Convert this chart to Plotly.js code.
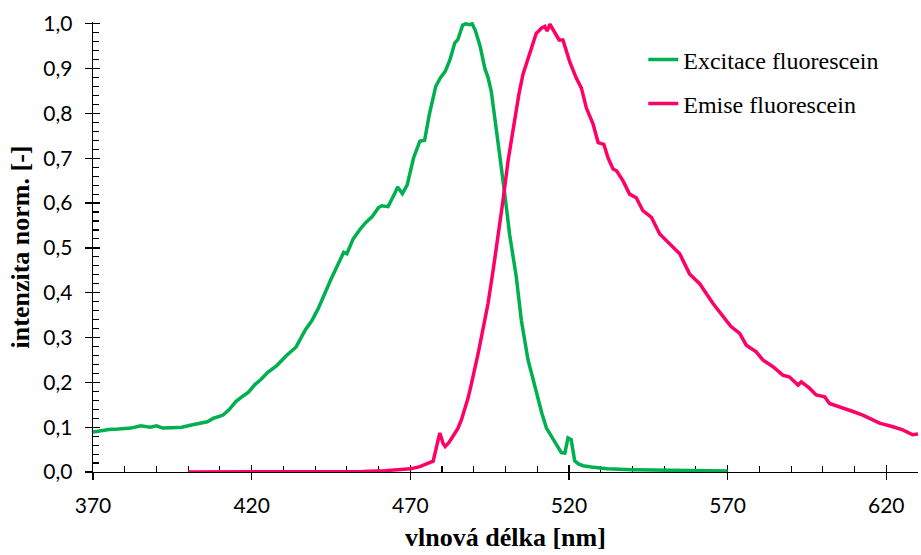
<!DOCTYPE html>
<html>
<head>
<meta charset="utf-8">
<script src="https://cdn.plot.ly/plotly-3.0.1.min.js"></script>
<style>html,body{margin:0;padding:0;background:#fff}#chart{width:921px;height:555px}</style>
</head>
<body>
<div id="chart"></div>
<script>
const exWavelength = [370,372,375,378,382,385,388,390,392,395,398,401,404,406,408,411,413,415,417,419,421,423,425,428,431,434,437,439,441,443,445,447,449,450,452,454,456,458,460,461,463,465,466,467.5,469,471,473,474.5,476,478,479.5,481,482.5,484,485,486.5,487.5,488.7,489.5,490.5,492,493.5,494.5,495.5,496.6,498.2,499.8,501.3,503.4,505,507.1,509.7,511.5,512.9,514,515,516.5,517.6,518.7,519.7,520.7,521.8,523,524.4,527,529.7,532,540,550,560,570];
const exIntensity = [0.089,0.092,0.095,0.096,0.098,0.103,0.100,0.103,0.098,0.099,0.100,0.105,0.109,0.112,0.120,0.127,0.140,0.157,0.168,0.178,0.195,0.207,0.222,0.238,0.260,0.279,0.318,0.338,0.365,0.400,0.430,0.460,0.490,0.487,0.520,0.540,0.557,0.570,0.590,0.594,0.592,0.620,0.636,0.621,0.640,0.700,0.738,0.740,0.798,0.860,0.880,0.894,0.920,0.957,0.965,0.997,1.000,0.998,1.000,0.985,0.950,0.900,0.880,0.850,0.795,0.705,0.618,0.530,0.435,0.338,0.250,0.176,0.130,0.098,0.085,0.072,0.055,0.043,0.042,0.076,0.072,0.025,0.018,0.014,0.011,0.009,0.007,0.005,0.004,0.003,0.002];

const emWavelength = [400,420,440,455,462,466.7,470,473,475,477.2,478.3,479.3,480.3,481,482.2,483.5,485,486.1,487.2,488.2,489.2,490.3,491.4,492.4,493.5,494.5,496.1,497.7,499.2,500.8,502,502.9,504.2,505.5,507,508.2,509.7,510.5,511.3,512.4,513.1,514,514.7,515.5,516.9,518.1,519.2,520.2,522.3,523.9,525.5,527.6,529.2,531,532.3,533.9,535,537,539.1,541.2,543.3,546,548.6,551.7,554.9,558,561.2,565.4,568.5,571,573.8,575.9,579,581.1,584.3,587.4,589.5,592.2,593.2,595.8,597.9,600.6,602.1,605.3,609.5,612.6,614.7,617.9,622.1,625.2,628.3,630];
const emIntensity = [0.000,0.000,0.000,0.001,0.003,0.005,0.007,0.012,0.017,0.024,0.057,0.087,0.064,0.057,0.066,0.079,0.097,0.116,0.140,0.165,0.195,0.227,0.265,0.301,0.340,0.376,0.450,0.524,0.605,0.694,0.748,0.790,0.842,0.887,0.918,0.942,0.979,0.984,0.990,0.994,0.984,0.999,0.990,0.979,0.964,0.964,0.940,0.916,0.879,0.857,0.812,0.776,0.735,0.731,0.701,0.676,0.672,0.650,0.620,0.612,0.583,0.568,0.531,0.509,0.487,0.442,0.420,0.376,0.346,0.325,0.309,0.283,0.268,0.250,0.235,0.216,0.212,0.194,0.201,0.187,0.172,0.168,0.153,0.146,0.135,0.127,0.120,0.109,0.101,0.094,0.083,0.085];

const seriesNames = ["Excitace fluorescein", "Emise fluorescein"];
const xTitle = "vlnová délka [nm]";
const yTitle = "intenzita norm. [-]";

const xRange = [370, 630];
const yRange = [0, 1.004];

const traces = [
  {x: exWavelength, y: exIntensity, type: 'scatter', mode: 'lines', name: seriesNames[0], legendgroup: 'a',
   line: {color: '#00B050', width: 3.5}, hoverinfo: 'skip'},
  {x: emWavelength, y: emIntensity, type: 'scatter', mode: 'lines', name: seriesNames[1], legendgroup: 'b',
   line: {color: '#FF0066', width: 3.5}, hoverinfo: 'skip'},
  {x: [xRange[0]], y: [yRange[0]], xaxis: 'x2', yaxis: 'y2', type: 'scatter', mode: 'markers',
   marker: {opacity: 0}, showlegend: false, hoverinfo: 'skip'}
];

const tickFont = {family: 'Lato, "Liberation Sans", sans-serif', size: 21, color: '#000'};
const titleFont = {family: '"Liberation Serif", "Times New Roman", serif', size: 26, color: '#000'};

const layout = {
  width: 921, height: 555,
  margin: {l: 93, r: 3, t: 22, b: 83, pad: 0},
  paper_bgcolor: '#fff', plot_bgcolor: '#fff',
  separators: ', ',
  showlegend: true,
  legend: {x: 0.667, y: 0.966, xanchor: 'left', yanchor: 'top', bgcolor: 'rgba(0,0,0,0)',
           font: {family: '"Liberation Serif", "Times New Roman", serif', size: 24, color: '#000'},
           tracegroupgap: 10},
  xaxis: {
    range: xRange, tick0: 370, dtick: 50, showgrid: false, zeroline: false,
    showline: true, linecolor: '#000', linewidth: 1.3, layer: 'below traces',
    ticks: 'inside', ticklen: 7, tickwidth: 1.3, tickcolor: '#000',
    minor: {ticks: 'inside', ticklen: 6, tickwidth: 1.1, tickcolor: '#000', dtick: 10, tick0: 370, showgrid: false},
    tickfont: tickFont, ticklabelstandoff: 14,
    title: {text: '<b>' + xTitle + '</b>', font: titleFont, standoff: 12},
    automargin: false
  },
  yaxis: {
    range: yRange, tick0: 0, dtick: 0.1, tickformat: '.1f', showgrid: false, zeroline: false,
    showline: true, linecolor: '#000', linewidth: 1.3, layer: 'below traces',
    ticks: 'inside', ticklen: 7, tickwidth: 1.3, tickcolor: '#000',
    minor: {ticks: 'inside', ticklen: 6, tickwidth: 1.1, tickcolor: '#000', dtick: 0.02, tick0: 0, showgrid: false},
    tickfont: tickFont, ticklabelstandoff: 15,
    title: {text: '<b>' + yTitle + '</b>', font: titleFont, standoff: 6},
    automargin: false
  },
  xaxis2: {
    overlaying: 'x', anchor: 'y2', side: 'bottom', range: xRange, tick0: 370, dtick: 50,
    showgrid: false, zeroline: false, showline: false, showticklabels: false,
    ticks: 'outside', ticklen: 7, tickwidth: 1.3, tickcolor: '#000', automargin: false
  },
  yaxis2: {
    overlaying: 'y', anchor: 'x2', side: 'left', range: yRange, tick0: 0, dtick: 0.1,
    showgrid: false, zeroline: false, showline: false, showticklabels: false,
    ticks: 'outside', ticklen: 7, tickwidth: 1.3, tickcolor: '#000', automargin: false
  }
};

Plotly.newPlot('chart', traces, layout, {staticPlot: true, displayModeBar: false});
</script>
</body>
</html>
